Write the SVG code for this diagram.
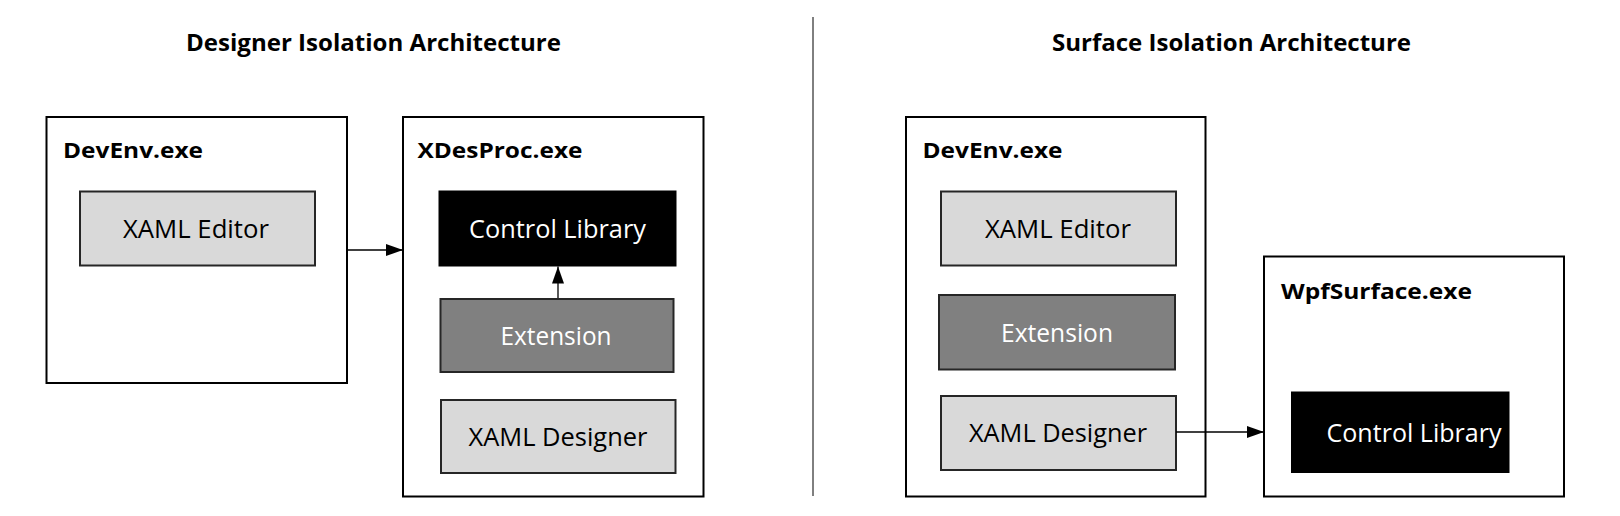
<svg xmlns="http://www.w3.org/2000/svg" width="1620" height="516" viewBox="0 0 1620 516">
<defs>
<style>
.title{font-family:"Open Sans","Noto Sans",sans-serif;font-weight:bold;font-size:24px;fill:#000;text-anchor:middle}
.plabel{font-family:"Open Sans","Noto Sans",sans-serif;font-weight:bold;font-size:21px;fill:#000}
.proc{fill:#fff;stroke:#000;stroke-width:2}
.light{fill:#d9d9d9;stroke:#262626;stroke-width:2}
.mid{fill:#808080;stroke:#262626;stroke-width:2}
.dark{fill:#000;stroke:#000;stroke-width:2}
.t{font-family:"Open Sans","Noto Sans",sans-serif;font-size:26px;text-anchor:middle}
.tb{fill:#000}
.tw{fill:#fff}
.conn{stroke:#000;stroke-width:1.3;fill:none}
</style>
<marker id="ah" markerUnits="userSpaceOnUse" markerWidth="18" markerHeight="12" refX="17" refY="6" orient="auto">
<path d="M0,0 L17,6 L0,12 z" fill="#000"/>
</marker>
</defs>
<rect width="1620" height="516" fill="#fff"/>
<text class="title" x="373.5" y="51" textLength="375" lengthAdjust="spacingAndGlyphs">Designer Isolation Architecture</text>
<text class="title" x="1231.5" y="51" textLength="359" lengthAdjust="spacingAndGlyphs">Surface Isolation Architecture</text>
<line x1="813" y1="17" x2="813" y2="496" stroke="#000" stroke-width="1"/>

<g id="devenv-left">
<rect class="proc" x="46.5" y="117" width="300.5" height="266"/>
<text class="plabel" x="63" y="158" textLength="140" lengthAdjust="spacingAndGlyphs">DevEnv.exe</text>
</g>
<g id="xaml-editor-left">
<rect class="light" x="80" y="191.5" width="235" height="74"/>
<text class="t tb" x="196" y="238" textLength="146" lengthAdjust="spacingAndGlyphs">XAML Editor</text>
</g>
<g id="xdesproc">
<rect class="proc" x="403" y="117" width="300.5" height="379.5"/>
<text class="plabel" x="417.5" y="158" textLength="165" lengthAdjust="spacingAndGlyphs">XDesProc.exe</text>
</g>
<g id="control-library-left">
<rect class="dark" x="439.5" y="191.5" width="236" height="74"/>
<text class="t tw" x="557.5" y="238" textLength="177" lengthAdjust="spacingAndGlyphs">Control Library</text>
</g>
<g id="extension-left">
<rect class="mid" x="440.5" y="299" width="233" height="73"/>
<text class="t tw" x="556" y="345" textLength="111" lengthAdjust="spacingAndGlyphs">Extension</text>
</g>
<g id="xaml-designer-left">
<rect class="light" x="441" y="400" width="234.5" height="73"/>
<text class="t tb" x="558" y="446" textLength="179" lengthAdjust="spacingAndGlyphs">XAML Designer</text>
</g>

<g id="devenv-right">
<rect class="proc" x="906" y="117" width="299.5" height="379.5"/>
<text class="plabel" x="922.5" y="158" textLength="140" lengthAdjust="spacingAndGlyphs">DevEnv.exe</text>
</g>
<g id="xaml-editor-right">
<rect class="light" x="941" y="191.5" width="235" height="74"/>
<text class="t tb" x="1058" y="238" textLength="146" lengthAdjust="spacingAndGlyphs">XAML Editor</text>
</g>
<g id="extension-right">
<rect class="mid" x="939" y="295" width="236" height="74.5"/>
<text class="t tw" x="1057" y="342" textLength="112" lengthAdjust="spacingAndGlyphs">Extension</text>
</g>
<g id="xaml-designer-right">
<rect class="light" x="941" y="396" width="235" height="74"/>
<text class="t tb" x="1058" y="442" textLength="178" lengthAdjust="spacingAndGlyphs">XAML Designer</text>
</g>
<g id="wpfsurface">
<rect class="proc" x="1264" y="256.5" width="300" height="240"/>
<text class="plabel" x="1281" y="299" textLength="191" lengthAdjust="spacingAndGlyphs">WpfSurface.exe</text>
</g>
<g id="control-library-right">
<rect class="dark" x="1292" y="392.5" width="216.5" height="79.5"/>
<text class="t tw" x="1414" y="442" textLength="175" lengthAdjust="spacingAndGlyphs">Control Library</text>
</g>

<g id="connectors">
<line class="conn" x1="347" y1="250" x2="403" y2="250" marker-end="url(#ah)"/>
<line class="conn" x1="558" y1="298" x2="558" y2="266.5" marker-end="url(#ah)"/>
<line class="conn" x1="1176" y1="432" x2="1264" y2="432" marker-end="url(#ah)"/>
</g>
</svg>
